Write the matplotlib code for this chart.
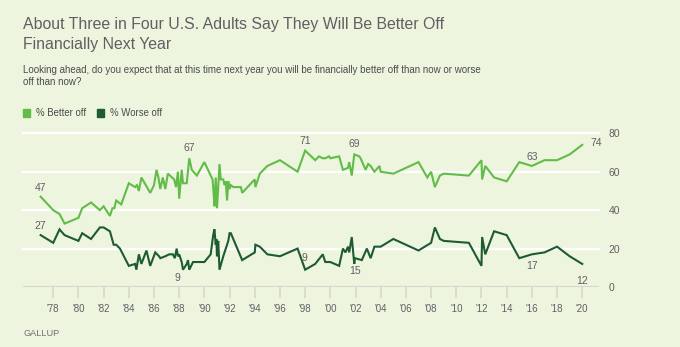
import matplotlib
matplotlib.use("Agg")
import matplotlib.pyplot as plt
from matplotlib.patches import Rectangle

# Gallup: better off / worse off next year (survey dates as decimal years)
better_years = [1977.0, 1978.0, 1978.5, 1978.9, 1980.0, 1980.3, 1981.0, 1981.7, 1982.0,
                1982.5, 1982.7, 1982.85, 1983.0, 1983.4, 1984.0, 1984.5, 1984.65, 1984.8,
                1985.0, 1985.7, 1986.0, 1986.2, 1986.35, 1986.5, 1986.7, 1986.9, 1987.1,
                1987.6, 1987.75, 1987.9, 1988.0, 1988.2, 1988.3, 1988.6, 1988.8, 1989.0,
                1989.4, 1990.0, 1990.5, 1990.65, 1990.72, 1990.8, 1990.9, 1991.0, 1991.1,
                1991.2, 1991.3, 1991.5, 1991.6, 1991.7, 1991.8, 1991.9, 1992.0, 1992.1,
                1992.3, 1992.9, 1993.0, 1994.0, 1994.05, 1994.4, 1995.0, 1996.0, 1997.4,
                1998.0, 1998.8, 1999.1, 1999.4, 1999.6, 1999.9, 2000.0, 2000.7, 2001.0,
                2001.4, 2001.5, 2001.7, 2001.9, 2002.3, 2002.4, 2002.8, 2003.0, 2003.2,
                2003.5, 2003.9, 2004.0, 2005.0, 2007.0, 2007.7, 2008.0, 2008.3, 2008.7,
                2009.0, 2011.0, 2012.0, 2012.05, 2012.3, 2013.0, 2014.0, 2015.0, 2016.0,
                2017.0, 2018.0, 2019.0, 2020.0]
better_vals = [47, 40, 38, 33, 36, 41, 44, 40, 42,
               37, 41, 41, 45, 43, 54, 52, 53, 50,
               57, 49, 53, 61, 57, 51, 57, 51, 59,
               56, 52, 60, 46, 61, 54, 54, 67, 61,
               58, 65, 58, 56, 50, 42, 57, 41, 52,
               64, 56, 56, 53, 55, 45, 55, 51, 53,
               52, 52, 49, 56, 52, 59, 63, 66, 60,
               71, 66, 68, 67, 67, 68, 67, 68, 61,
               62, 65, 58, 69, 68, 67, 61, 64, 63,
               60, 63, 60, 59, 65, 57, 60, 52, 58,
               59, 58, 66, 56, 63, 57, 55, 65, 63,
               66, 66, 69, 74]

worse_years = [1977.0, 1978.0, 1978.5, 1978.9, 1980.0, 1980.3, 1981.0, 1981.7, 1982.0,
               1982.5, 1982.8, 1983.0, 1983.3, 1984.0, 1984.5, 1984.6, 1984.8, 1985.0,
               1985.4, 1985.7, 1986.1, 1986.4, 1986.5, 1986.9, 1987.2, 1987.5, 1987.65,
               1987.8, 1987.9, 1988.0, 1988.2, 1988.3, 1988.6, 1988.7, 1988.8, 1989.1,
               1990.0, 1990.5, 1990.7, 1990.8, 1990.9, 1990.95, 1991.0, 1991.1, 1991.2,
               1991.5, 1991.75, 1991.9, 1992.0, 1992.1, 1993.0, 1994.0, 1994.05, 1994.4,
               1995.0, 1996.0, 1997.4, 1998.0, 1998.8, 1999.4, 1999.6, 2000.0, 2000.7,
               2001.0, 2001.2, 2001.4, 2001.5, 2001.7, 2001.9, 2001.95, 2002.5, 2002.9,
               2003.2, 2003.5, 2004.0, 2005.0, 2007.0, 2008.0, 2008.3, 2008.7, 2009.0,
               2011.0, 2012.0, 2012.05, 2012.3, 2013.0, 2014.0, 2015.0, 2016.0, 2017.0,
               2018.0, 2019.0, 2020.0]
worse_vals = [27, 23, 30, 27, 24, 28, 25, 31, 31,
              29, 22, 22, 20, 11, 12, 9, 17, 12,
              19, 11, 18, 16, 15, 16, 17, 17, 15,
              20, 16, 17, 13, 9, 12, 14, 9, 13,
              13, 17, 27, 30, 22, 25, 16, 24, 9,
              16, 21, 24, 28, 28, 14, 18, 22, 21,
              17, 16, 20, 9, 12, 17, 13, 13, 11,
              20, 18, 21, 18, 26, 12, 15, 14, 20,
              15, 21, 21, 25, 19, 23, 31, 25, 24,
              23, 11, 26, 17, 29, 27, 15, 17, 18,
              21, 16, 12]

x_ticks = list(range(1978, 2021, 2))
x_labels = ["'%02d" % (y % 100) for y in x_ticks]
y_ticks = [0, 20, 40, 60, 80]

bg = "#EEF5DF"
c_better = "#62BC48"
c_worse = "#1E5B31"
txt = "#5F6062"

plt.rcParams["font.family"] = ["Liberation Sans", "DejaVu Sans"]

fig = plt.figure(figsize=(6.8, 3.47), dpi=100, facecolor=bg)
ax = fig.add_axes([23 / 680, 1 - 287 / 347, 576 / 680, 153.7 / 347])
ax.set_facecolor(bg)

ax.set_xlim(1975.6, 2021.33)
ax.set_ylim(0, 80)
for y in y_ticks[1:]:
    ax.axhline(y, color="white", lw=1.6, zorder=1, clip_on=False)
ax.axhline(0, color="#D6D8D0", lw=1.6, zorder=1)

ax.plot(better_years, better_vals, color=c_better, lw=1.5, zorder=3, solid_joinstyle="miter")
ax.plot(worse_years, worse_vals, color=c_worse, lw=1.5, zorder=3, solid_joinstyle="miter")

for s in ax.spines.values():
    s.set_visible(False)
ax.set_xticks(x_ticks)
ax.set_xticklabels(x_labels)
ax.tick_params(axis="x", length=8, width=1.2, color="#D6D8D0", labelsize=7, labelcolor=txt, pad=4)
ax.yaxis.tick_right()
ax.set_yticks(y_ticks)
ax.tick_params(axis="y", length=0, labelsize=7.5, labelcolor=txt, pad=7)

# point labels
ann = [(1977.0, 47, "47", 0, 9), (1977.0, 27, "27", 0, 9), (1988.8, 67, "67", 0, 10),
       (1998.0, 71, "71", 0, 10), (2001.9, 69, "69", 0, 10), (2016.0, 63, "63", 0, 9),
       (2020.0, 74, "74", 14, 2), (1988.3, 9, "9", -6, -8), (1998.0, 9, "9", -1, 12),
       (2001.95, 15, "15", 0, -13), (2016.0, 17, "17", 0, -12), (2020.0, 12, "12", 0, -17)]
for x, y, s, dx, dy in ann:
    ax.annotate(s, (x, y), xytext=(dx, dy), textcoords="offset pixels", ha="center", va="center",
                fontsize=7.5, color=txt)

fig.text(23 / 680, 1 - 25 / 347, "About Three in Four U.S. Adults Say They Will Be Better Off",
         fontsize=11.4, color=txt, va="center")
fig.text(23 / 680, 1 - 45 / 347, "Financially Next Year", fontsize=11.4, color=txt, va="center")
fig.text(23 / 680, 1 - 70 / 347,
         "Looking ahead, do you expect that at this time next year you will be financially better off than now or worse",
         fontsize=7.0, color="#4A4B4D", va="center")
fig.text(23 / 680, 1 - 82 / 347, "off than now?", fontsize=7.0, color="#4A4B4D", va="center")

# legend
for x0, col, lab in [(23, c_better, "% Better off"), (97, c_worse, "% Worse off")]:
    fig.patches.append(Rectangle((x0 / 680, 1 - 117 / 347), 7 / 680, 8 / 347,
                                 transform=fig.transFigure, color=col))
    fig.text((x0 + 13) / 680, 1 - 113 / 347, lab, fontsize=6.9, color="#4A4B4D", va="center")

fig.text(23 / 680, 1 - 333 / 347, "GALLUP", fontsize=6.6, color="#6F706F", va="center")

fig.savefig("out.png", dpi=100, facecolor=bg)
